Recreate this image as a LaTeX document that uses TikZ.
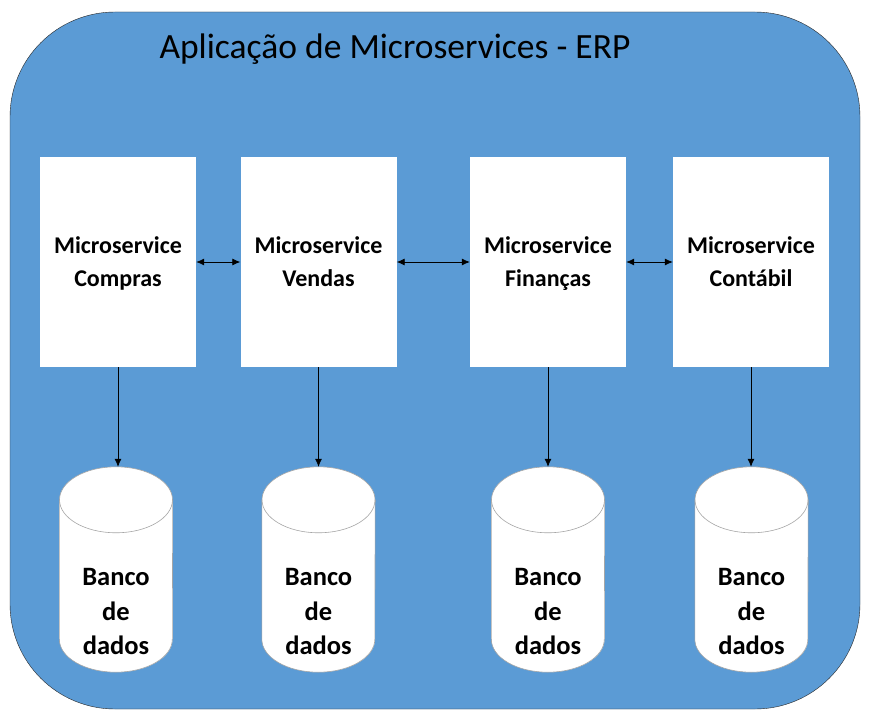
\documentclass[tikz,border=0pt]{standalone}
\usepackage{fontspec}
\setmainfont{Carlito}
\usetikzlibrary{arrows.meta}
\definecolor{erpblue}{HTML}{5B9BD5}
\tikzstyle{every node}=[font=\bfseries\fontsize{24}{33}\selectfont]
\tikzstyle{service}=[rectangle,
                     fill=white,
                     inner sep=0pt,
                     align=center,
                     minimum width=156pt,
                     minimum height=210pt
                     ]
\tikzstyle{dbbody}=[rectangle,
                    inner sep=0pt,
                    minimum width=113pt,
                    minimum height=205pt
                    ]
\tikzstyle{cylline}=[draw=gray!70,line width=0.6pt]
\tikzstyle{dblabel}=[align=center,
                     font=\bfseries\fontsize{26.5}{34.5}\selectfont]
\tikzstyle{link}=[line width=0.8pt]
% struts so every service text sits at the same height
\newcommand{\topstrut}{\rule{0pt}{23pt}}
\newcommand{\botstrut}{\rule[-8pt]{0pt}{8pt}}
% cylinder drawn round a dbbody node
\newcommand{\drawcyl}[1]{%
  \fill[white] ([yshift=-33pt]#1.north) ellipse[x radius=56.5pt,y radius=33pt];
  \fill[white] ([yshift=33pt]#1.south) ellipse[x radius=56.5pt,y radius=33pt];
  \fill[white] ([yshift=-33pt]#1.north west) rectangle ([yshift=33pt]#1.south east);
  \draw[cylline] ([yshift=-33pt]#1.north) ellipse[x radius=56.5pt,y radius=33pt];
  \draw[cylline] ([yshift=-33pt]#1.north west) -- ([yshift=33pt]#1.south west)
    arc[start angle=180,end angle=360,x radius=56.5pt,y radius=33pt]
    -- ([yshift=-33pt]#1.north east);
}

\begin{document}
\begin{tikzpicture}[x=1pt,y=-1pt,>={Latex[length=8pt,width=7pt]}]
\fill[white] (0,0) rectangle (874,722);
\draw[fill=erpblue,draw=black!85,rounded corners=105pt] (10,12) rectangle (860,709);
\node (title) at (395,49) {\mdseries\fontsize{35.5}{40}\selectfont Aplicação de Microservices - ERP};
\node (MS_1) [service] at (118,262) {\topstrut Microservice\\Compras\botstrut};
\node (MS_2) [service] at (318.5,262) {\topstrut Microservice\\Vendas\botstrut};
\node (MS_3) [service] at (548,262) {\topstrut Microservice\\Finanças\botstrut};
\node (MS_4) [service] at (751,262) {\topstrut Microservice\\Contábil\botstrut};
\node (DB_1) [dbbody] at (116,569.5) {};
\node (DB_2) [dbbody] at (318.5,569.5) {};
\node (DB_3) [dbbody] at (548,569.5) {};
\node (DB_4) [dbbody] at (751.5,569.5) {};
\drawcyl{DB_1}
\drawcyl{DB_2}
\drawcyl{DB_3}
\drawcyl{DB_4}
\node (DB_1_txt) [dblabel] at (116,611.5) {Banco\\de\\dados};
\node (DB_2_txt) [dblabel] at (318.5,611.5) {Banco\\de\\dados};
\node (DB_3_txt) [dblabel] at (548,611.5) {Banco\\de\\dados};
\node (DB_4_txt) [dblabel] at (751.5,611.5) {Banco\\de\\dados};
 \path[<->] (MS_1) edge[link] (MS_2);
 \path[<->] (MS_2) edge[link] (MS_3);
 \path[<->] (MS_3) edge[link] (MS_4);
 \path[->] (MS_1.south) edge[link] (MS_1.south |- DB_1.north);
 \path[->] (MS_2.south) edge[link] (MS_2.south |- DB_2.north);
 \path[->] (MS_3.south) edge[link] (MS_3.south |- DB_3.north);
 \path[->] (MS_4.south) edge[link] (MS_4.south |- DB_4.north);
\end{tikzpicture}
\end{document}
